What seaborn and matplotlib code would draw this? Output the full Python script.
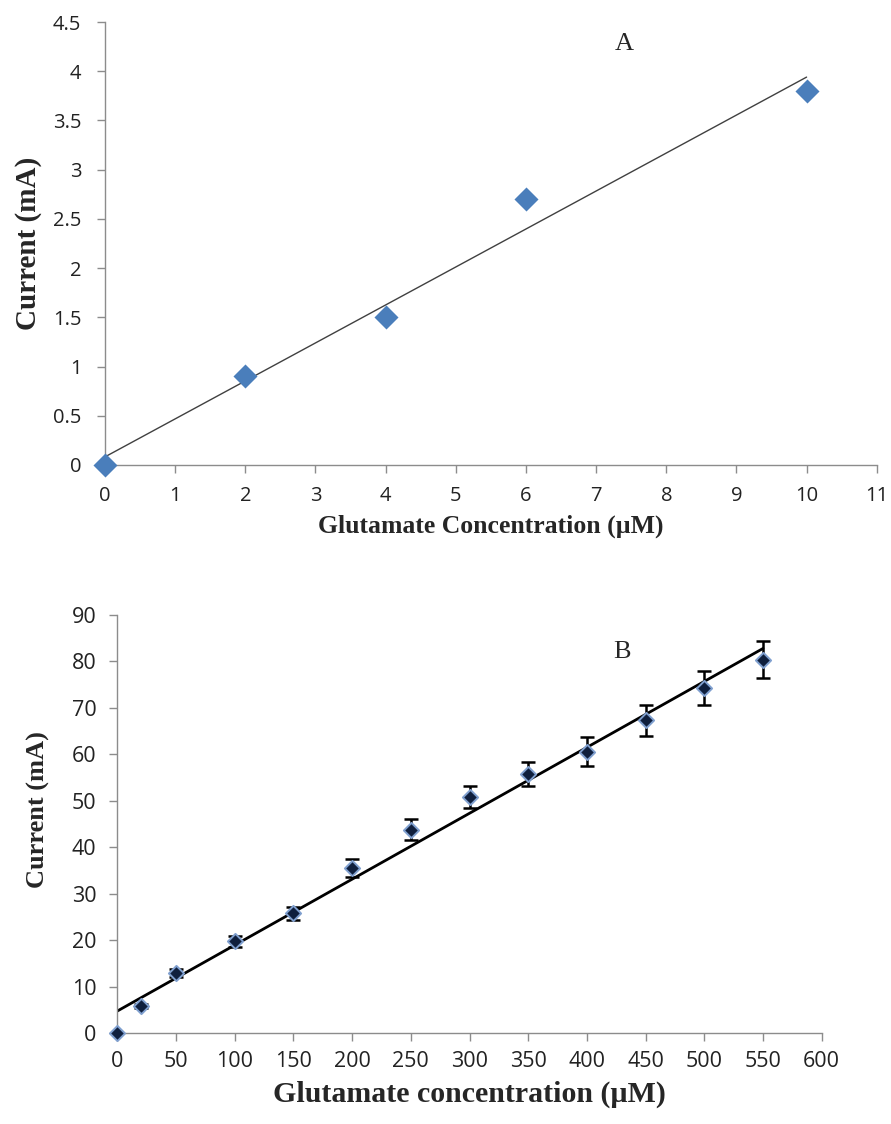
import numpy as np
import pandas as pd
import matplotlib
matplotlib.use("Agg")
import matplotlib.pyplot as plt
import seaborn as sns

# Panel A data
conc_a = [0, 2, 4, 6, 10]
current_a = [0.0, 0.9, 1.5, 2.7, 3.8]

# Panel B data
conc_b = [0, 20, 50, 100, 150, 200, 250, 300, 350, 400, 450, 500, 550]
current_b = [0.0, 5.8, 12.9, 19.7, 25.8, 35.5, 43.8, 50.8, 55.8, 60.6, 67.3, 74.3, 80.4]
err_b = [0.0, 0.4, 0.8, 1.1, 1.4, 1.9, 2.3, 2.4, 2.6, 3.1, 3.4, 3.6, 4.0]

xticks_a = list(range(0, 12))
yticks_a = [0, 0.5, 1, 1.5, 2, 2.5, 3, 3.5, 4, 4.5]
xticks_b = list(range(0, 601, 50))
yticks_b = list(range(0, 91, 10))

sns.set_theme(style="ticks")
plt.rcParams['font.family'] = ['Open Sans', 'DejaVu Sans']

fig = plt.figure(figsize=(8.91, 11.24), dpi=100)
ax_a = fig.add_axes([0.1178, 0.5863, 0.984 - 0.1178, 0.9804 - 0.5863])
ax_b = fig.add_axes([0.1317, 0.0810, 0.9222 - 0.1317, 0.4528 - 0.0810])

df_a = pd.DataFrame({"x": conc_a, "y": current_a})
df_b = pd.DataFrame({"x": conc_b, "y": current_b, "e": err_b})

spine_col = "#8c8c8c"
serif = ["Liberation Serif", "DejaVu Serif"]

# ---- Panel A ----
sns.regplot(data=df_a, x="x", y="y", ax=ax_a, scatter=False, ci=None, truncate=True,
            line_kws=dict(color="#404040", lw=1.0))
sns.scatterplot(data=df_a, x="x", y="y", ax=ax_a, marker="D", s=150, color="#4a7ebb",
                edgecolor="#4a7ebb", linewidth=0, zorder=5, clip_on=False)
ax_a.set_xlim(0, 11)
ax_a.set_ylim(0, 4.5)
ax_a.set_xticks(xticks_a)
ax_a.set_yticks(yticks_a)
ax_a.set_yticklabels([f"{v:g}" for v in yticks_a])
ax_a.set_xlabel("Glutamate Concentration (µM)", family=serif, fontweight="bold",
                fontsize=18.5, labelpad=6)
ax_a.set_ylabel("Current (mA)", family=serif, fontweight="bold", fontsize=21, labelpad=8)
ax_a.text(7.4, 4.28, "A", family=serif, fontsize=19, ha="center", va="center")

# ---- Panel B ----
sns.regplot(data=df_b, x="x", y="y", ax=ax_b, scatter=False, ci=None, truncate=True,
            line_kws=dict(color="black", lw=2.0))
ax_b.errorbar(df_b["x"], df_b["y"], yerr=df_b["e"], fmt="none", ecolor="black",
              elinewidth=1.8, capsize=5, capthick=1.8, zorder=4)
sns.scatterplot(data=df_b, x="x", y="y", ax=ax_b, marker="D", s=60, color="#0f1f3d",
                edgecolor="#7f9fcf", linewidth=1.4, zorder=5, clip_on=False)
ax_b.set_xlim(0, 600)
ax_b.set_ylim(0, 90)
ax_b.set_xticks(xticks_b)
ax_b.set_yticks(yticks_b)
ax_b.set_xlabel("Glutamate concentration (µM)", family=serif, fontweight="bold",
                fontsize=21.5, labelpad=6)
ax_b.set_ylabel("Current (mA)", family=serif, fontweight="bold", fontsize=19)
ax_b.yaxis.set_label_coords(-0.095, 0.535)
ax_b.text(430, 82, "B", family=serif, fontsize=19, ha="center", va="center")

for ax, fs, padx, pady in [(ax_a, 14.5, 9, 11), (ax_b, 15.5, 7, 9)]:
    for side in ["top", "right"]:
        ax.spines[side].set_visible(False)
    for side in ["left", "bottom"]:
        ax.spines[side].set_color(spine_col)
        ax.spines[side].set_linewidth(1.0)
    ax.tick_params(axis="both", direction="out", length=6, width=1.0, color=spine_col,
                   labelsize=fs, labelcolor="#222222")
    ax.tick_params(axis="x", pad=padx)
    ax.tick_params(axis="y", pad=pady)
    ax.set_facecolor("white")

fig.savefig("out.png", dpi=100, facecolor="white")
